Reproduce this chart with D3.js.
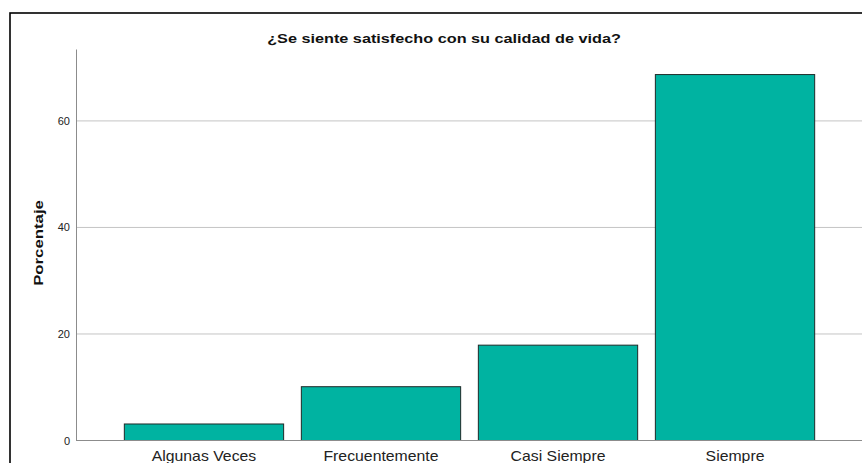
<!DOCTYPE html>
<html>
<head>
<meta charset="utf-8">
<script src="https://cdn.jsdelivr.net/npm/d3@7"></script>
<style>
  body { margin: 0; background: #fff; }
  svg { display: block; font-family: Arial, "Liberation Sans", sans-serif; }
</style>
</head>
<body>
<svg id="chart" width="862" height="463"></svg>
<script>
var title = "¿Se siente satisfecho con su calidad de vida?";
var yAxisTitle = "Porcentaje";
var categories = ["Algunas Veces", "Frecuentemente", "Casi Siempre", "Siempre"];
var percentages = [3.1, 10.1, 17.9, 68.7];
var yTicks = [0, 20, 40, 60];

var svg = d3.select("#chart"),
    plot = { left: 76, right: 863, top: 49, bottom: 440.5 };

// marco exterior
svg.append("rect")
    .attr("x", 10).attr("y", 13)
    .attr("width", 870).attr("height", 470)
    .attr("fill", "none")
    .attr("stroke", "#000")
    .attr("stroke-width", 1.6);

var x = d3.scaleBand()
    .domain(categories)
    .range([plot.left, plot.right])
    .paddingInner(0.1)
    .paddingOuter(0.273);

var y = d3.scaleLinear()
    .domain([0, 73.5])
    .range([plot.bottom, plot.top]);

// lineas de rejilla
svg.append("g")
    .selectAll("line")
    .data(yTicks.filter(function (d) { return d > 0; }))
    .enter().append("line")
    .attr("x1", plot.left).attr("x2", 862)
    .attr("y1", function (d) { return y(d); })
    .attr("y2", function (d) { return y(d); })
    .attr("stroke", "#c4c4c4")
    .attr("stroke-width", 1);

// barras
svg.append("g")
    .selectAll("rect")
    .data(percentages)
    .enter().append("rect")
    .attr("x", function (d, i) { return x(categories[i]); })
    .attr("y", function (d) { return y(d); })
    .attr("width", x.bandwidth())
    .attr("height", function (d) { return y(0) - y(d); })
    .attr("fill", "#00b3a1")
    .attr("stroke", "#1e2a28")
    .attr("stroke-width", 1);

// eje Y
var yAxis = svg.append("g")
    .attr("transform", "translate(" + plot.left + ",0)")
    .call(d3.axisLeft(y).tickValues(yTicks).tickSize(0).tickPadding(6).tickFormat(d3.format("d")));
yAxis.select(".domain").attr("stroke", "#8c8c8c");
yAxis.selectAll("text")
    .attr("font-size", 11)
    .attr("fill", "#222")
    .attr("font-family", "Arial, 'Liberation Sans', sans-serif");

// linea base
svg.append("line")
    .attr("x1", plot.left).attr("x2", 862)
    .attr("y1", y(0)).attr("y2", y(0))
    .attr("stroke", "#8c8c8c");

// eje X
var xAxis = svg.append("g")
    .attr("transform", "translate(0," + plot.bottom + ")")
    .call(d3.axisBottom(x).tickSize(0).tickPadding(10.5));
xAxis.select(".domain").remove();
xAxis.selectAll("text")
    .attr("font-size", 14)
    .attr("fill", "#222")
    .attr("font-family", "Arial, 'Liberation Sans', sans-serif")
    .attr("transform", "scale(1.13,1)");

// titulo
svg.append("text")
    .attr("transform", "translate(444,43) scale(1.25,1)")
    .attr("text-anchor", "middle")
    .attr("font-size", 13)
    .attr("font-weight", "bold")
    .attr("fill", "#111")
    .text(title);

// titulo del eje Y
svg.append("text")
    .attr("transform", "translate(43,243) rotate(-90) scale(1.29,1)")
    .attr("text-anchor", "middle")
    .attr("font-size", 13)
    .attr("font-weight", "bold")
    .attr("fill", "#111")
    .text(yAxisTitle);
</script>
</body>
</html>
